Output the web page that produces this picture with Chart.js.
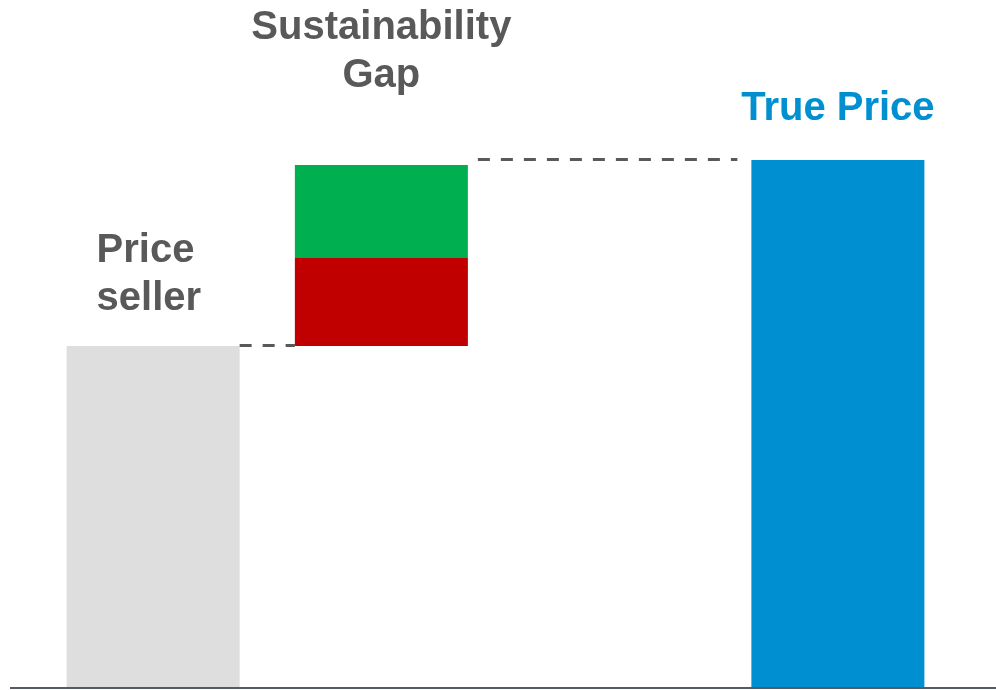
<!DOCTYPE html>
<html>
<head>
<meta charset="utf-8">
<script src="https://cdn.jsdelivr.net/npm/chart.js@4.4.1/dist/chart.umd.min.js"></script>
<style>
    html, body { margin: 0; padding: 0; background: #ffffff; }
    #wrap { width: 996px; height: 690px; }
</style>
</head>
<body>
<div id="wrap"><canvas id="truePriceChart" width="996" height="690"></canvas></div>
<script>
// Waterfall: seller price + sustainability gap = true price
const categories = ['Price seller', 'Sustainability Gap', '', 'True Price'];
const sellerPrice = [100];
const gapSteps = [25.7, 27.2];      // lower (red) and upper (green) parts of the gap
const truePrice = [154.4];
const labelLines = [['Price', 'seller'], ['Sustainability', 'Gap'], [], ['True Price']];

const colors = {
    seller: '#dedede',
    gapLow: '#c00000',
    gapHigh: '#00b050',
    truePrice: '#008fd0',
    text: '#595959',
    axis: '#535a68'
};

const gapLowTop = sellerPrice[0] + gapSteps[0];
const gapHighTop = gapLowTop + gapSteps[1];

// Dashed connectors and bar labels
const waterfallExtras = {
    id: 'waterfallExtras',
    afterDatasetsDraw(chart) {
        const ctx = chart.ctx;
        const y = chart.scales.y;
        const bars = i => chart.getDatasetMeta(i).data;
        const sellerBar = bars(0)[0];
        const lowBar = bars(1)[1];
        const highBar = bars(2)[1];
        const trueBar = bars(3)[3];
        const half = b => b.width / 2;

        ctx.save();
        ctx.strokeStyle = colors.text;
        ctx.lineWidth = 3;
        ctx.setLineDash([12, 11]);
        ctx.beginPath();
        let yy = Math.round(y.getPixelForValue(sellerPrice[0])) - 0.5;
        ctx.moveTo(sellerBar.x + half(sellerBar), yy);
        ctx.lineTo(lowBar.x - half(lowBar), yy);
        yy = Math.round(y.getPixelForValue(truePrice[0])) - 0.5;
        ctx.moveTo(highBar.x + half(highBar) + 10, yy);
        ctx.lineTo(trueBar.x - half(trueBar) - 14, yy);
        ctx.stroke();
        ctx.restore();

        // baseline
        ctx.save();
        ctx.strokeStyle = colors.axis;
        ctx.lineWidth = 2;
        const base = y.getPixelForValue(0);
        ctx.beginPath();
        ctx.moveTo(10, base);
        ctx.lineTo(chart.width, base);
        ctx.stroke();
        ctx.restore();

        // labels
        ctx.save();
        ctx.font = 'bold 40px "Liberation Sans", Arial, sans-serif';
        ctx.textBaseline = 'alphabetic';
        const lineH = 48;

        ctx.fillStyle = colors.text;
        ctx.textAlign = 'left';
        let top = y.getPixelForValue(sellerPrice[0]);
        labelLines[0].forEach((t, i, a) => {
            ctx.fillText(t, sellerBar.x - half(sellerBar) + 30, top - 36 - (a.length - 1 - i) * lineH);
        });

        ctx.textAlign = 'center';
        top = y.getPixelForValue(gapHighTop);
        labelLines[1].forEach((t, i, a) => {
            ctx.fillText(t, highBar.x, top - 78 - (a.length - 1 - i) * lineH);
        });

        ctx.fillStyle = colors.truePrice;
        top = y.getPixelForValue(truePrice[0]);
        labelLines[3].forEach((t, i, a) => {
            ctx.fillText(t, trueBar.x, top - 40 - (a.length - 1 - i) * lineH);
        });
        ctx.restore();
    }
};

new Chart(document.getElementById('truePriceChart'), {
    type: 'bar',
    data: {
        labels: categories,
        datasets: [
            {
                label: 'Price seller',
                data: [sellerPrice[0], null, null, null],
                backgroundColor: colors.seller
            },
            {
                label: 'Gap (lower)',
                data: [null, [sellerPrice[0], gapLowTop], null, null],
                backgroundColor: colors.gapLow
            },
            {
                label: 'Gap (upper)',
                data: [null, [gapLowTop, gapHighTop], null, null],
                backgroundColor: colors.gapHigh
            },
            {
                label: 'True Price',
                data: [null, null, null, truePrice[0]],
                backgroundColor: colors.truePrice
            }
        ]
    },
    options: {
        responsive: false,
        animation: false,
        layout: { padding: { left: 39, right: 44, top: 4, bottom: 2 } },
        datasets: {
            bar: {
                grouped: false,
                barPercentage: 1,
                categoryPercentage: 0.758,
                borderWidth: 0
            }
        },
        plugins: {
            legend: { display: false },
            tooltip: { enabled: false }
        },
        scales: {
            x: { display: false },
            y: { display: false, min: 0, max: 200 }
        }
    },
    plugins: [waterfallExtras]
});
</script>
</body>
</html>
